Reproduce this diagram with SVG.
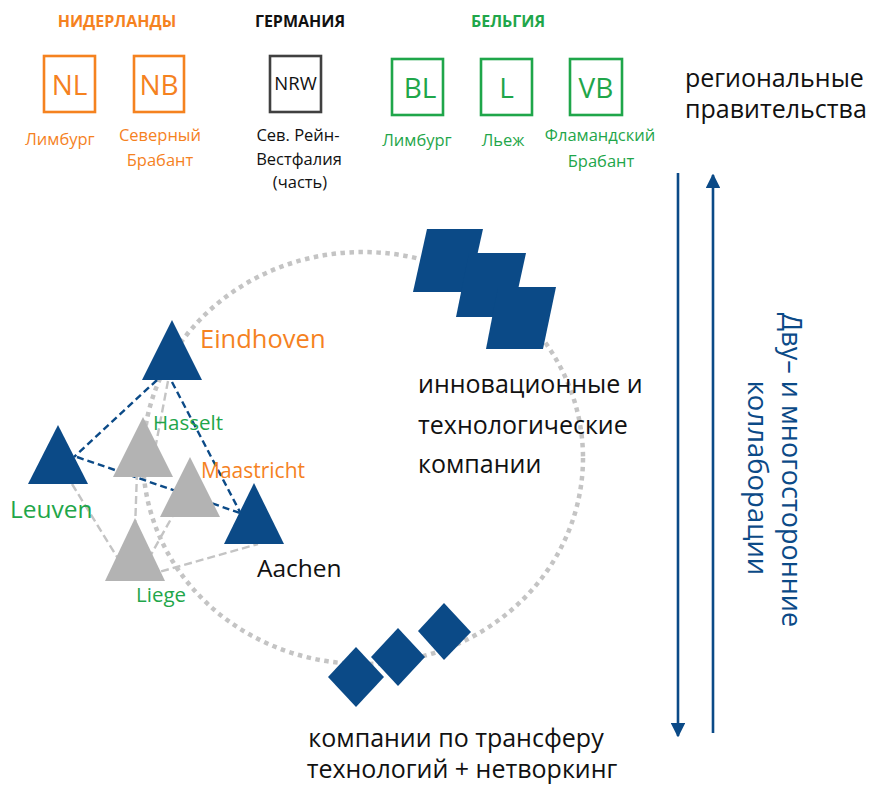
<svg xmlns="http://www.w3.org/2000/svg" width="870" height="794" viewBox="0 0 870 794">
<style>
text{font-family:"Open Sans","Liberation Sans",sans-serif}
.or{fill:#f5821f}.gr{fill:#1fa64a}.bk{fill:#111}.bl{fill:#0b4a87}
.hd{font-size:16px;font-weight:bold;text-anchor:middle}
.sub{font-size:16.5px;text-anchor:middle}
.bx{fill:#fff;stroke-width:2.6}
.code{font-size:28px;text-anchor:middle}
.tri{fill:#0b4a87}.tg{fill:#b3b3b3}
.big{font-size:25px;fill:#111}
.dashB{stroke:#0b4a87;stroke-width:2.4;stroke-dasharray:7 4;fill:none}
.dashG{stroke:#c4c4c4;stroke-width:2.4;stroke-dasharray:8 4;fill:none}
.arr{stroke:#0b4a87;stroke-width:2.6;fill:none}
</style>
<defs>
<marker id="ah" viewBox="0 0 10 10" refX="9" refY="5" markerWidth="5.6" markerHeight="5.6" orient="auto" markerUnits="strokeWidth">
<path d="M0,0 L10,5 L0,10 z" fill="#0b4a87"/>
</marker>
</defs>

<rect width="870" height="794" fill="#fff"/>

<!-- headers -->
<text class="hd or" x="117" y="27">НИДЕРЛАНДЫ</text>
<text class="hd bk" x="300" y="27">ГЕРМАНИЯ</text>
<text class="hd gr" x="508" y="27">БЕЛЬГИЯ</text>

<!-- region boxes -->
<g id="NL"><rect class="bx" x="44" y="56" width="51" height="56" stroke="#f5821f"/><text class="code or" x="69.5" y="94.5">NL</text><text class="sub or" x="60" y="145">Лимбург</text></g>
<g id="NB"><rect class="bx" x="134" y="56" width="50" height="56" stroke="#f5821f"/><text class="code or" x="159" y="94.5">NB</text><text class="sub or" x="160" y="141">Северный</text><text class="sub or" x="160" y="166">Брабант</text></g>
<g id="NRW"><rect class="bx" x="270" y="56" width="51" height="56" stroke="#404040"/><text class="bk" x="295.5" y="90" font-size="18.5" text-anchor="middle">NRW</text><text class="sub bk" x="298" y="141">Сев. Рейн-</text><text class="sub bk" x="299" y="165">Вестфалия</text><text class="sub bk" x="300" y="188">(часть)</text></g>
<g id="BL"><rect class="bx" x="392" y="59" width="51" height="56" stroke="#1fa64a"/><text class="code gr" x="420" y="97.5">BL</text><text class="sub gr" x="417" y="146">Лимбург</text></g>
<g id="L"><rect class="bx" x="481" y="59" width="51" height="56" stroke="#1fa64a"/><text class="code gr" x="506.5" y="97.5">L</text><text class="sub gr" x="503" y="146">Льеж</text></g>
<g id="VB"><rect class="bx" x="570" y="59" width="52" height="56" stroke="#1fa64a"/><text class="code gr" x="596" y="97.5">VB</text><text class="sub gr" x="600" y="141">Фламандский</text><text class="sub gr" x="601" y="167">Брабант</text></g>

<g id="gov"><text class="big" x="685" y="87" font-size="24">региональные</text><text class="big" x="685" y="118" font-size="24">правительства</text></g>

<!-- dotted ring -->
<ellipse cx="363" cy="458" rx="220" ry="206" fill="none" stroke="#c4c4c4" stroke-width="4.5" stroke-dasharray="4.5 4.5"/>

<!-- connectors -->
<g id="connectors">
<line class="dashG" x1="168" y1="381" x2="152" y2="465"/>
<line class="dashG" x1="137" y1="472" x2="135" y2="530"/>
<line class="dashG" x1="72" y1="484" x2="122" y2="565"/>
<line class="dashG" x1="176" y1="510" x2="148" y2="560"/>
<line class="dashG" x1="138" y1="578" x2="258" y2="544"/>
<line class="dashB" x1="157" y1="380" x2="74" y2="457"/>
<line class="dashB" x1="172" y1="382" x2="240" y2="512"/>
<line class="dashB" x1="77" y1="457" x2="240" y2="513"/>
<line class="arr" x1="678" y1="173" x2="678" y2="736" marker-end="url(#ah)"/>
<line class="arr" x1="713" y1="733" x2="713" y2="175" marker-end="url(#ah)"/>
</g>

<!-- cities -->
<g id="Hasselt"><polygon class="tg" points="143,417 173,477 113,477"/><text class="gr" x="153" y="430" font-size="20.5">Hasselt</text></g>
<g id="Maastricht"><polygon class="tg" points="190,457 220,517 160,517"/><text class="or" x="201" y="478" font-size="21">Maastricht</text></g>
<g id="Liege"><polygon class="tg" points="135,518 165,581 105,581"/><text class="gr" x="136" y="602" font-size="20.5">Liege</text></g>
<g id="Eindhoven"><polygon class="tri" points="172,320 202,380 142,380"/><text class="or" x="200" y="348" font-size="25.5">Eindhoven</text></g>
<g id="Leuven"><polygon class="tri" points="58,425 88,484 28,484"/><text class="gr" x="10" y="518" font-size="24.5">Leuven</text></g>
<g id="Aachen"><polygon class="tri" points="254,483 284,544 224,544"/><text class="bk" x="257" y="577" font-size="24.5">Aachen</text></g>

<!-- innovation companies -->
<g id="innovation">
<polygon class="tri" points="427,229 483,229 469,292 413,292"/>
<polygon class="tri" points="469,253 526,253 512,317 456,317"/>
<polygon class="tri" points="498,287 556,287 543,349 486,349"/>
<text class="big" x="418" y="393">инновационные и</text>
<text class="big" x="418" y="434">технологические</text>
<text class="big" x="418" y="473">компании</text>
</g>

<!-- transfer companies -->
<g id="transfer">
<polygon class="tri" points="356,647 384,677 356,707 328,677"/>
<polygon class="tri" points="398,628 425,657 398,686 371,657"/>
<polygon class="tri" points="444,603 471,632 444,660 418,631"/>
<text class="big" x="456" y="747" font-size="24" text-anchor="middle">компании по трансферу</text>
<text class="big" x="462" y="778" font-size="24.5" text-anchor="middle">технологий + нетворкинг</text>
</g>

<g id="collab">
<text class="bl" font-size="27" text-anchor="middle" transform="translate(782,470) rotate(90)">Дву– и многосторонние</text>
<text class="bl" font-size="27.5" text-anchor="middle" transform="translate(748,478) rotate(90)">коллаборации</text>
</g>
</svg>
